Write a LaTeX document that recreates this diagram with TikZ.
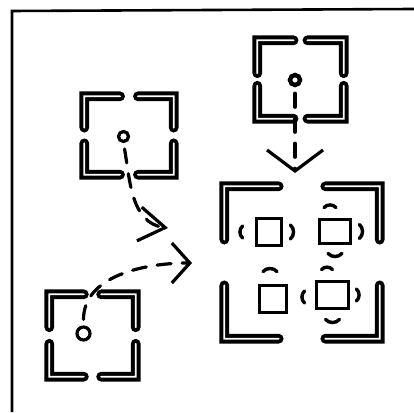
\documentclass[tikz,border=0pt]{standalone}
\usepackage{tikz}
\usetikzlibrary{arrows.meta, positioning, calc}

\begin{document}
\begin{tikzpicture}[
	x=1pt, y=1pt,
	holder/.style={
		rectangle,
		draw=none,
		inner sep=0pt
	},
	bracket/.style={
		line width=4pt,
		double=white,
		double distance=1.8pt,
		line cap=round
	},
	dot/.style={
		circle,
		draw=black,
		line width=3.2pt,
		inner sep=0pt
	},
	cell/.style={
		rectangle,
		draw=black,
		line width=3.8pt,
		inner sep=0pt
	},
	nub/.style={
		line width=3.4pt,
		line cap=round
	},
	link/.style={
		line width=3.2pt,
		line cap=round,
		dash pattern=on 14pt off 11pt,
		shorten <=6pt
	}
	]
	
	% Outer frame
	\useasboundingbox (0,0) rectangle (414,412);
	\draw[line width=2.6pt] (414,403) -- (12,401) -- (12,0);
	
	% Bracket frames
	\node[holder, minimum width=86pt, minimum height=78pt] (s1) at (300.5,332.5) {};
	\node[holder, minimum width=89pt, minimum height=78pt] (s2) at (129,276.5) {};
	\node[holder, minimum width=86pt, minimum height=82pt] (s3) at (92.5,76.5) {};
	\node[holder, minimum width=155pt, minimum height=152pt] (big) at (302,149.5) {};
	
	\foreach \b/\f in {s1/.42, s2/.4, s3/.4, big/.35}{
		\draw[bracket] ($(\b.north west)!\f!(\b.south west)$) -- (\b.north west) -- ($(\b.north west)!\f!(\b.north east)$);
		\draw[bracket] ($(\b.north east)!\f!(\b.south east)$) -- (\b.north east) -- ($(\b.north east)!\f!(\b.north west)$);
		\draw[bracket] ($(\b.south west)!\f!(\b.north west)$) -- (\b.south west) -- ($(\b.south west)!\f!(\b.south east)$);
		\draw[bracket] ($(\b.south east)!\f!(\b.north east)$) -- (\b.south east) -- ($(\b.south east)!\f!(\b.south west)$);
	}
	
	% Dots
	\node[dot, minimum size=10pt, line width=4.4pt] (c1) at (295,332) {};
	\node[dot, minimum size=10pt] (c2) at (123.5,275.5) {};
	\node[dot, minimum size=13pt] (c3) at (83.5,78.5) {};
	
	% Cells in the big frame
	\node[cell, minimum width=25pt, minimum height=27pt] (q1) at (269,180) {};
	\node[cell, minimum width=31pt, minimum height=24pt] (q2) at (335,180.5) {};
	\node[cell, minimum width=27pt, minimum height=27pt] (q3) at (273,113) {};
	\node[cell, minimum width=32pt, minimum height=27pt] (q4) at (332.5,117) {};
	
	% Small arcs round the cells
	\draw[nub] ([shift={(-12,6)}]q1.west) to[bend right=50] ++(0,-12);
	\draw[nub] ([shift={(7,7)}]q1.east) to[bend left=50] ++(0,-14);
	\draw[nub] ([shift={(-11,10)}]q2.north) to[bend left=50] ++(12,0);
	\draw[nub] ([shift={(7,7)}]q2.east) to[bend left=50] ++(0,-14);
	\draw[nub] ([shift={(-7,-8)}]q2.south) to[bend right=50] ++(14,0);
	\draw[nub] ([shift={(-10,12)}]q3.north) to[bend left=50] ++(14,0);
	\draw[nub] ([shift={(-11,10)}]q4.north) to[bend left=50] ++(11,0);
	\draw[nub] ([shift={(-10,4)}]q4.west) to[bend right=50] ++(0,-12);
	\draw[nub] ([shift={(6,6)}]q4.east) to[bend left=50] ++(0,-12);
	\draw[nub] ([shift={(-7,-9)}]q4.south) to[bend right=50] ++(14,0);
	
	% Dashed arrows
	\coordinate (in1) at (295,239);
	\coordinate (in2) at (168,184);
	\coordinate (in3) at (192,149);
	
	\draw[link, -{Straight Barb[length=21pt, width=56pt]}] (c1.south) -- (in1);
	\draw[link, -{Straight Barb[length=26pt, width=34pt]}] (c2.south) to[out=-80, in=172] (in2);
	\draw[link, -{Straight Barb[length=18pt, width=40pt]}] (c3.north) to[out=90, in=180] (in3);
	
\end{tikzpicture}
\end{document}
